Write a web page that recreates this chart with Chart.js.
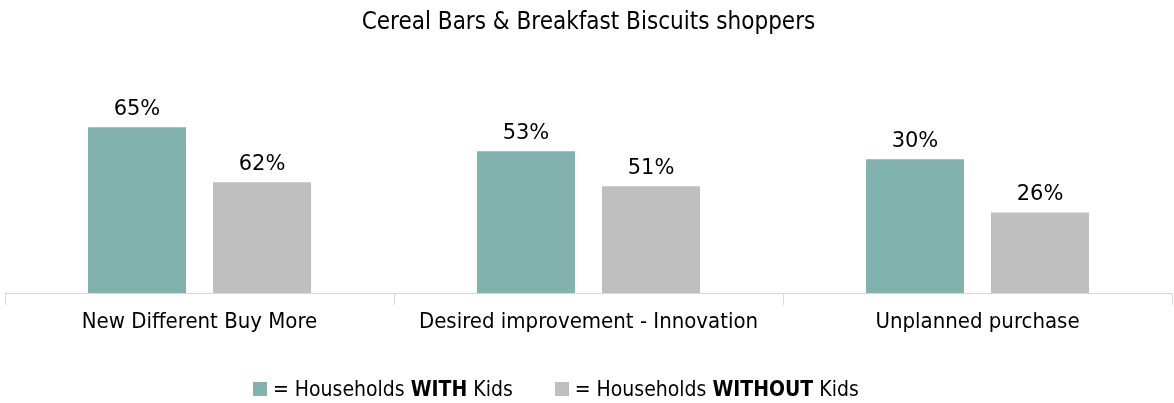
<!DOCTYPE html>
<html>
<head>
<meta charset="utf-8">
<script src="https://cdn.jsdelivr.net/npm/chart.js@4.4.1/dist/chart.umd.min.js"></script>
<style>
  body { margin: 0; background: #fff; }
  #wrap { position: relative; width: 1174px; height: 403px; }
  #leyenda {
    position: absolute; left: 253px; top: 377px;
    font-family: "DejaVu Sans Condensed", sans-serif;
    font-size: 21px; color: #000; white-space: nowrap;
  }
  #leyenda span.item { display: inline-block; margin-right: 36px; }
  #leyenda i { display: inline-block; width: 14px; height: 14px; margin-right: 6px; vertical-align: 0px; }
</style>
</head>
<body>
<div id="wrap">
  <canvas id="grafico" width="1174" height="403"></canvas>
  <div id="leyenda">
    <span class="item"><i style="background:#82b2ae"></i>= Households <b>WITH</b> Kids</span>
    <span class="item"><i style="background:#bfbfbf"></i>= Households <b>WITHOUT</b> Kids</span>
  </div>
</div>
<script>
// categorias del eje x
var categorias = ["New Different Buy More", "Desired improvement - Innovation", "Unplanned purchase"];
// alturas de las barras tal como se ven en la imagen
var conNinos = [71.4, 61.1, 57.6];
var sinNinos = [47.7, 46.0, 34.7];
// etiquetas que aparecen sobre las barras
var etiquetasCon = ["65%", "53%", "30%"];
var etiquetasSin = ["62%", "51%", "26%"];

// plugin para escribir las etiquetas encima de cada barra
var etiquetasPlugin = {
  id: "etiquetas",
  afterDatasetsDraw: function (chart) {
    var ctx = chart.ctx;
    var textos = [etiquetasCon, etiquetasSin];
    ctx.save();
    ctx.font = "21px 'DejaVu Sans', sans-serif";
    ctx.fillStyle = "#000";
    ctx.textAlign = "center";
    ctx.textBaseline = "bottom";
    chart.data.datasets.forEach(function (ds, i) {
      chart.getDatasetMeta(i).data.forEach(function (barra, j) {
        ctx.fillText(textos[i][j], barra.x, barra.y - 7);
      });
    });
    ctx.restore();
  }
};

var grafico = new Chart(document.getElementById("grafico"), {
  type: "bar",
  data: {
    labels: categorias,
    datasets: [{
      label: "Households WITH Kids",
      data: conNinos,
      backgroundColor: "#82b2ae",
      categoryPercentage: 0.643,
      barPercentage: 0.784
    }, {
      label: "Households WITHOUT Kids",
      data: sinNinos,
      backgroundColor: "#bfbfbf",
      categoryPercentage: 0.643,
      barPercentage: 0.784
    }]
  },
  options: {
    responsive: false,
    animation: false,
    layout: { padding: { left: 5, right: 2, bottom: 63.5 } },
    plugins: {
      legend: { display: false },
      tooltip: { enabled: false },
      title: {
        display: true,
        text: "Cereal Bars & Breakfast Biscuits shoppers",
        color: "#000",
        font: { family: "'DejaVu Sans Condensed', sans-serif", size: 24, weight: "normal" },
        padding: { top: 8, bottom: 24 }
      }
    },
    scales: {
      x: {
        grid: { display: true, drawOnChartArea: false, drawTicks: true, tickLength: 12, color: "#d9d9d9", offset: true },
        border: { color: "#d9d9d9" },
        ticks: {
          color: "#000",
          padding: 4,
          font: { family: "'DejaVu Sans Condensed', sans-serif", size: 22 }
        }
      },
      y: { display: false, min: 0, max: 100 }
    }
  },
  plugins: [etiquetasPlugin]
});
</script>
</body>
</html>
